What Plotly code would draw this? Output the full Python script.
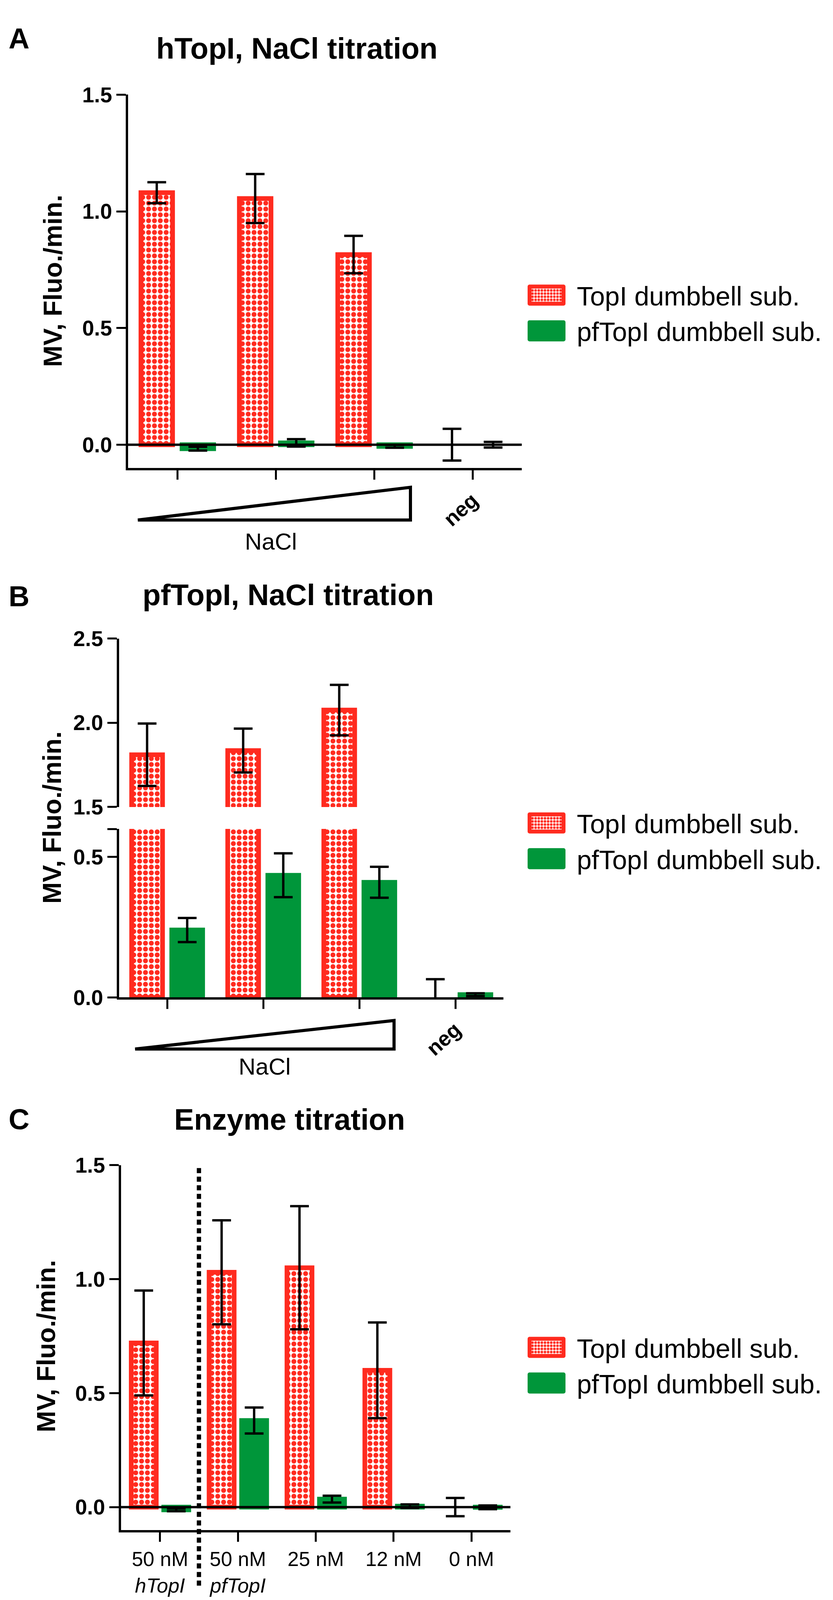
import plotly.graph_objects as go

W, H = 2133, 4103


def fx(p):
    return p / W


def fy(p):
    return 1 - p / H


RED = '#FF2B1F'
GREEN = '#00963A'
FONT = 'Liberation Sans, Arial, sans-serif'

series_names = ['TopI dumbbell sub.', 'pfTopI dumbbell sub.']

# ---- Panel A: hTopI, NaCl titration ----
a_categories = ['NaCl low', 'NaCl mid', 'NaCl high', 'neg']
a_ticktext = ['', '', '', 'neg']
a_topi = [1.08, 1.055, 0.815, 0.0]
a_topi_err = [0.045, 0.105, 0.08, 0.068]
a_pftopi = [-0.017, 0.008, -0.007, 0.0]
a_pftopi_err = [0.008, 0.016, 0.006, 0.012]
a_yticks = [0.0, 0.5, 1.0, 1.5]

# ---- Panel B: pfTopI, NaCl titration (broken axis) ----
b_categories = ['NaCl low', 'NaCl mid', 'NaCl high', 'neg']
b_ticktext = ['', '', '', 'neg']
b_topi = [1.81, 1.835, 2.075, 0.0]
b_topi_err = [0.185, 0.13, 0.15, 0.065]
b_pftopi = [0.24, 0.435, 0.41, 0.01]
b_pftopi_err = [0.043, 0.078, 0.055, 0.005]
b_low_yticks = [0.0, 0.5, 0.6]
b_low_yticktext = ['0.0', '0.5', '']
b_high_yticks = [1.5, 2.0, 2.5]

# ---- Panel C: Enzyme titration ----
c_categories = ['50 nM hTopI', '50 nM pfTopI', '25 nM', '12 nM', '0 nM']
c_ticktext = ['50 nM<br><i>hTopI</i>', '50 nM<br><i>pfTopI</i>', '25 nM', '12 nM', '0 nM']
c_topi = [0.72, 1.03, 1.05, 0.60, 0.0]
c_topi_err = [0.23, 0.228, 0.27, 0.21, 0.04]
c_pftopi = [-0.012, 0.38, 0.035, 0.004, -0.001]
c_pftopi_err = [0.006, 0.057, 0.015, 0.008, 0.008]
c_yticks = [0.0, 0.5, 1.0, 1.5]


def make_bar(name, x, y, err, color, patterned, xaxis, yaxis, legend, showlegend):
    # no outline on bars whose value is exactly zero (nothing is drawn there)
    widths = [12 if v != 0 else 0 for v in y]
    marker = dict(color=color, line=dict(color=color, width=widths))
    if patterned:
        marker['pattern'] = dict(shape='.', bgcolor='white', fgcolor=color,
                                 size=15, solidity=0.55, fillmode='replace')
    return go.Bar(
        name=name, x=x, y=y,
        error_y=dict(type='data', array=err, color='black', thickness=6, width=24),
        marker=marker, xaxis=xaxis, yaxis=yaxis, legend=legend,
        showlegend=showlegend,
    )


fig = go.Figure()
# A
fig.add_trace(make_bar(series_names[0], a_categories, a_topi, a_topi_err, RED, True, 'x', 'y', 'legend', True))
fig.add_trace(make_bar(series_names[1], a_categories, a_pftopi, a_pftopi_err, GREEN, False, 'x', 'y', 'legend', True))
# B lower
fig.add_trace(make_bar(series_names[0], b_categories, b_topi, b_topi_err, RED, True, 'x2', 'y2', 'legend2', True))
fig.add_trace(make_bar(series_names[1], b_categories, b_pftopi, b_pftopi_err, GREEN, False, 'x2', 'y2', 'legend2', True))
# B upper (same data on the broken segment)
fig.add_trace(make_bar(series_names[0], b_categories, b_topi, b_topi_err, RED, True, 'x2', 'y3', 'legend2', False))
fig.add_trace(make_bar(series_names[1], b_categories, b_pftopi, b_pftopi_err, GREEN, False, 'x2', 'y3', 'legend2', False))
# C
fig.add_trace(make_bar(series_names[0], c_categories, c_topi, c_topi_err, RED, True, 'x3', 'y4', 'legend3', True))
fig.add_trace(make_bar(series_names[1], c_categories, c_pftopi, c_pftopi_err, GREEN, False, 'x3', 'y4', 'legend3', True))

axis_common = dict(showline=True, linecolor='black', linewidth=6, ticks='outside',
                   ticklen=24, tickwidth=5, tickcolor='black', showgrid=False,
                   zeroline=False, fixedrange=True)
ytick_font = dict(family=FONT, size=55, color='black', weight='bold')

layout_axes = dict(
    xaxis=dict(axis_common, domain=[fx(320), fx(1328)], anchor='y', type='category',
               range=[-0.5, 3.5], tickmode='array', tickvals=a_categories, ticktext=a_ticktext,
               tickangle=-42, tickfont=dict(family=FONT, size=54, color='black', weight='bold')),
    yaxis=dict(axis_common, domain=[fy(1177), fy(206.6)], anchor='x', range=[-0.1, 1.5],
               tickmode='array', tickvals=a_yticks, tickformat='.1f', tickfont=ytick_font),
    xaxis2=dict(axis_common, domain=[fx(297), fx(1281)], anchor='y2', type='category',
                range=[-0.5, 3.5], tickmode='array', tickvals=b_categories, ticktext=b_ticktext,
                tickangle=-42, tickfont=dict(family=FONT, size=54, color='black', weight='bold')),
    yaxis2=dict(axis_common, domain=[fy(2553), fy(2115)], anchor='x2', range=[0, 0.6],
                tickmode='array', tickvals=b_low_yticks, ticktext=b_low_yticktext, tickfont=ytick_font),
    yaxis3=dict(axis_common, domain=[fy(2058), fy(1620)], anchor='x2', range=[1.5, 2.5],
                tickmode='array', tickvals=b_high_yticks, tickformat='.1f', tickfont=ytick_font),
    xaxis3=dict(axis_common, domain=[fx(302), fx(1299)], anchor='y4', type='category',
                range=[-0.5, 4.5], tickmode='array', tickvals=c_categories, ticktext=c_ticktext,
                tickangle=0, tickfont=dict(family=FONT, size=52, color='black')),
    yaxis4=dict(axis_common, domain=[fy(3937), fy(2989)], anchor='x3', range=[-0.1, 1.5],
                tickmode='array', tickvals=c_yticks, tickformat='.1f', tickfont=ytick_font),
)

legend_common = dict(xanchor='left', yanchor='middle', bgcolor='rgba(0,0,0,0)',
                     font=dict(family=FONT, size=68, color='black'), itemwidth=145,
                     tracegroupgap=0)

fig.update_layout(
    width=W, height=H, margin=dict(l=0, r=0, t=0, b=0),
    paper_bgcolor='white', plot_bgcolor='white',
    barmode='group', bargap=0.165, bargroupgap=0.23,
    font=dict(family=FONT, color='black'),
    showlegend=True,
    legend=dict(legend_common, x=fx(1314), y=fy(774)),
    legend2=dict(legend_common, x=fx(1314), y=fy(2146)),
    legend3=dict(legend_common, x=fx(1314), y=fy(3509)),
    **layout_axes,
)

# Titles, panel letters, axis titles, annotations
title_font = dict(family=FONT, size=76, color='black', weight='bold')
letter_font = dict(family=FONT, size=74, color='black', weight='bold')
ytitle_font = dict(family=FONT, size=66, color='black', weight='bold')
panel_titles = ['hTopI, NaCl titration', 'pfTopI, NaCl titration', 'Enzyme titration']
panel_letters = ['A', 'B', 'C']
ytitle_text = 'MV, Fluo./min.'

ann = []
for t, (cx, cy) in zip(panel_titles, [(752, 86), (730, 1506), (734, 2870)]):
    ann.append(dict(text=t, x=fx(cx), y=fy(cy), xref='paper', yref='paper',
                    xanchor='center', yanchor='middle', showarrow=False, font=title_font))
for t, (cx, cy) in zip(panel_letters, [(40, 60), (40, 1510), (40, 2870)]):
    ann.append(dict(text=t, x=fx(cx), y=fy(cy), xref='paper', yref='paper',
                    xanchor='center', yanchor='middle', showarrow=False, font=letter_font))
for (cx, cy) in [(127, 691), (125, 2086), (110, 3460)]:
    ann.append(dict(text=ytitle_text, x=fx(cx), y=fy(cy), xref='paper', yref='paper',
                    xanchor='center', yanchor='middle', showarrow=False, textangle=-90,
                    font=ytitle_font))
for (cx, cy) in [(685, 1368), (669, 2733)]:
    ann.append(dict(text='NaCl', x=fx(cx), y=fy(cy), xref='paper', yref='paper',
                    xanchor='center', yanchor='middle', showarrow=False,
                    font=dict(family=FONT, size=60, color='black')))
fig.update_layout(annotations=ann)

shapes = []
# zero lines drawn above bars
for xr, yr in [('x domain', 'y'), ('x3 domain', 'y4')]:
    shapes.append(dict(type='line', xref=xr, yref=yr, x0=0, x1=1, y0=0, y1=0,
                       line=dict(color='black', width=6), layer='above'))


def tri(x0, x1, yb, yt):
    return ('M {:.5f} {:.5f} L {:.5f} {:.5f} L {:.5f} {:.5f} Z'
            .format(fx(x0), fy(yb), fx(x1), fy(yb), fx(x1), fy(yt)))


shapes.append(dict(type='path', xref='paper', yref='paper', path=tri(345, 1043, 1312, 1227),
                   line=dict(color='black', width=8), fillcolor='white'))
shapes.append(dict(type='path', xref='paper', yref='paper', path=tri(338, 1001, 2687, 2613),
                   line=dict(color='black', width=8), fillcolor='white'))
# dotted separator in panel C
shapes.append(dict(type='line', xref='x3', yref='paper', x0=0.5, x1=0.5,
                   y0=fy(4082), y1=fy(2989),
                   line=dict(color='black', width=11, dash='13px,9px'), layer='above'))
fig.update_layout(shapes=shapes)

post = """
var gd = document.getElementById('{plot_id}');
function fixSwatches() {
  var paths = gd.querySelectorAll('g.legendpoints path');
  for (var i = 0; i < paths.length; i++) {
    var p = paths[i];
    var d = p.getAttribute('d') || '';
    if (p.classList.contains('legendbar') || d.indexOf('M6,6H-6V-6H6Z') === 0 || p.getAttribute('data-sw')) {
      p.setAttribute('d', 'M-43.5,-22H43.5V22H-43.5Z');
      p.setAttribute('data-sw', '1');
      p.style.strokeWidth = '10px';
      p.style.strokeLinejoin = 'round';
    }
  }
}
fixSwatches();
if (gd.on) { gd.on('plotly_afterplot', fixSwatches); }
setTimeout(fixSwatches, 30);
setTimeout(fixSwatches, 300);
setTimeout(fixSwatches, 1000);
"""

fig.write_html('out.html', post_script=post)
